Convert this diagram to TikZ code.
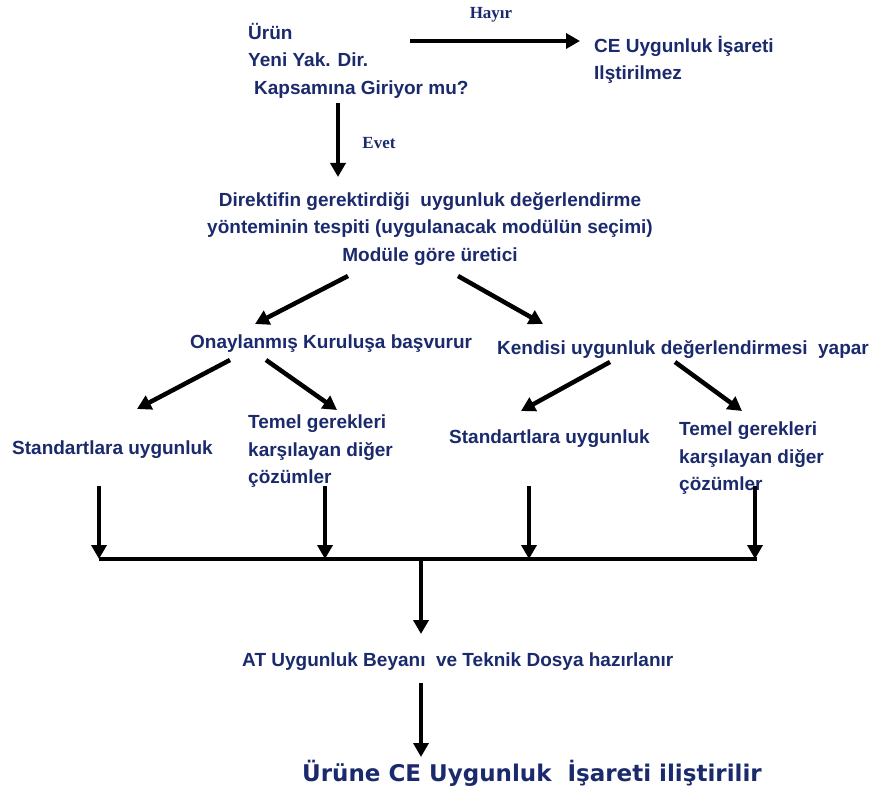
\documentclass[tikz,border=0pt]{standalone}
\usepackage{fontspec}
\setmainfont{Liberation Sans}
\newfontfamily\serifbold{Liberation Serif}
\newfontfamily\boldsans{DejaVu Sans}
\usepackage{xcolor}
\usetikzlibrary{arrows.meta}
\definecolor{navy}{HTML}{1A2A6C}

\begin{document}
\begin{tikzpicture}[x=1pt,y=-1pt]
        \tikzstyle{every node} = [inner sep=0pt, text=navy, font=\bfseries\fontsize{19}{27.5}\selectfont]
        \tikzstyle{yesno} = [font=\serifbold\bfseries\fontsize{17}{19}\selectfont]
        \tikzstyle{arr} = [line width=4.5pt, -{Triangle[length=14pt,width=15pt]}]
        \useasboundingbox (0,0) rectangle (876,786);
        % text blocks
        \node[anchor=north west, align=left] (urun) at (248,23) {Ürün\\Yeni Yak. Dir.\\\hspace{6pt}Kapsamına Giriyor\ mu?};
        \node[yesno] (hayir) at (491,15) {Hayır};
        \node[anchor=north west, align=left] (ce) at (594,36) {CE Uygunluk İşareti\\Ilştirilmez};
        \node[yesno] (evet) at (379,143) {Evet};
        \node[anchor=north, align=center] (direktif) at (430,192) {Direktifin gerektirdiği\ \ uygunluk değerlendirme\\yönteminin tespiti (uygulanacak modülün seçimi)\\Modüle göre üretici};
        \node[anchor=west] (onay) at (190,344) {Onaylanmış Kuruluşa başvurur};
        \node[anchor=west] (kendi) at (497,350) {Kendisi uygunluk değerlendirmesi\ \ yapar};
        \node[anchor=west] (std1) at (12,450) {Standartlara uygunluk};
        \node[anchor=north west, align=left] (temel1) at (248,415) {Temel gerekleri\\karşılayan diğer\\çözümler};
        \node[anchor=west] (std2) at (449,439) {Standartlara uygunluk};
        \node[anchor=north west, align=left] (temel2) at (679,422) {Temel gerekleri\\karşılayan diğer\\çözümler};
        \node[anchor=west] (beyan) at (242,662) {AT Uygunluk Beyanı\ \ ve Teknik Dosya hazırlanır};
        \node[anchor=west, font=\boldsans\bfseries\fontsize{23}{26}\selectfont] (son) at (302,773) {Ürüne CE Uygunluk\ \ İşareti iliştirilir};
        % arrow ends
        \coordinate (h1) at (410,41);  \coordinate (h2) at (580,41);
        \coordinate (e1) at (338,103); \coordinate (e2) at (338,177);
        \coordinate (d1) at (348,276); \coordinate (d2) at (255,324);
        \coordinate (d3) at (458,276); \coordinate (d4) at (543,324);
        \coordinate (o1) at (230,360); \coordinate (o2) at (137,409);
        \coordinate (o3) at (266,360); \coordinate (o4) at (337,410);
        \coordinate (k1) at (610,362); \coordinate (k2) at (521,411);
        \coordinate (k3) at (675,362); \coordinate (k4) at (742,411);
        \coordinate (b1) at (99,559);  \coordinate (b2) at (757,559);
        \coordinate (m1) at (421,559); \coordinate (m2) at (421,634);
        \coordinate (n1) at (421,683); \coordinate (n2) at (421,757);
        \foreach \x [count=\i] in {99, 325, 529, 755} {
            \coordinate (v\i) at (\x,486);
            \coordinate (w\i) at (\x,559);
        }
        \foreach \from/\to in {h1/h2, e1/e2, d1/d2, d3/d4, o1/o2, o3/o4, k1/k2, k3/k4,
        m1/m2, n1/n2, v1/w1, v2/w2, v3/w3, v4/w4}
            \draw[arr] (\from) -- (\to);
        \draw[line width=4.5pt] (b1) -- (b2);
\end{tikzpicture}
\end{document}
